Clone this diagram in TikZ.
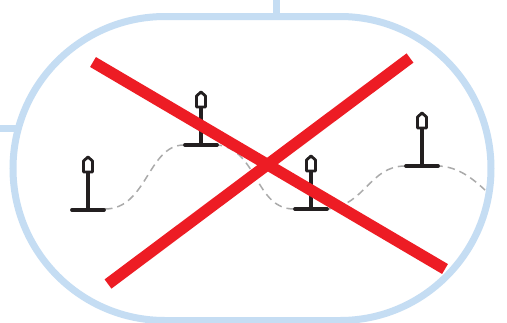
\documentclass[tikz,border=0pt]{standalone}
\definecolor{frameblue}{HTML}{C5DDF3}
\definecolor{crossred}{HTML}{ED1C24}
\definecolor{pinblack}{HTML}{231F20}
\definecolor{pathgray}{HTML}{AAAAAA}
\tikzset{
  framed/.style={draw=frameblue,line width=7pt},
  crossline/.style={draw=crossred,line width=11.5pt},
  pathline/.style={draw=pathgray,line width=1.5pt,dash pattern=on 7.5pt off 5pt},
  pin/.pic={
    \draw[pinblack,line width=3.8pt,line cap=round] (-16,0) -- (16,0);
    \draw[pinblack,line width=3.6pt] (0,0) -- (0,-37);
    \draw[pinblack,line width=2.8pt,fill=white,line join=round]
      (-4.5,-38) -- (-4.5,-49) -- (0,-53) -- (4.5,-49) -- (4.5,-38) -- cycle;
  }
}
\begin{document}
\begin{tikzpicture}[x=1pt,y=-1pt]
\useasboundingbox (0,0) rectangle (507,322);
\fill[white] (0,0) rectangle (507,322);
\draw[framed] (276,0) -- (276,16.5);
\draw[framed] (0,128) -- (18,128);
\draw[framed] (165,16.5) -- (340,16.5) arc[start angle=90,end angle=-90,x radius=151,y radius=-152] -- (165,320.5) arc[start angle=-90,end angle=-270,x radius=152,y radius=-152] -- cycle;
\draw[pathline] (105,209) .. controls (147,209) and (148,145) .. (184,145) -- (218,145)
  .. controls (258,150) and (255,209) .. (294,209) -- (328,209)
  .. controls (365,205) and (370,166) .. (405,166) -- (439,166)
  .. controls (458,167) and (472,178) .. (485,190);
\pic at (88,210) {pin};
\pic at (201,145) {pin};
\pic at (311,209) {pin};
\pic at (422,166) {pin};
\draw[crossline] (93,62) -- (445,269);
\draw[crossline] (410,58) -- (108,284);
\end{tikzpicture}
\end{document}
